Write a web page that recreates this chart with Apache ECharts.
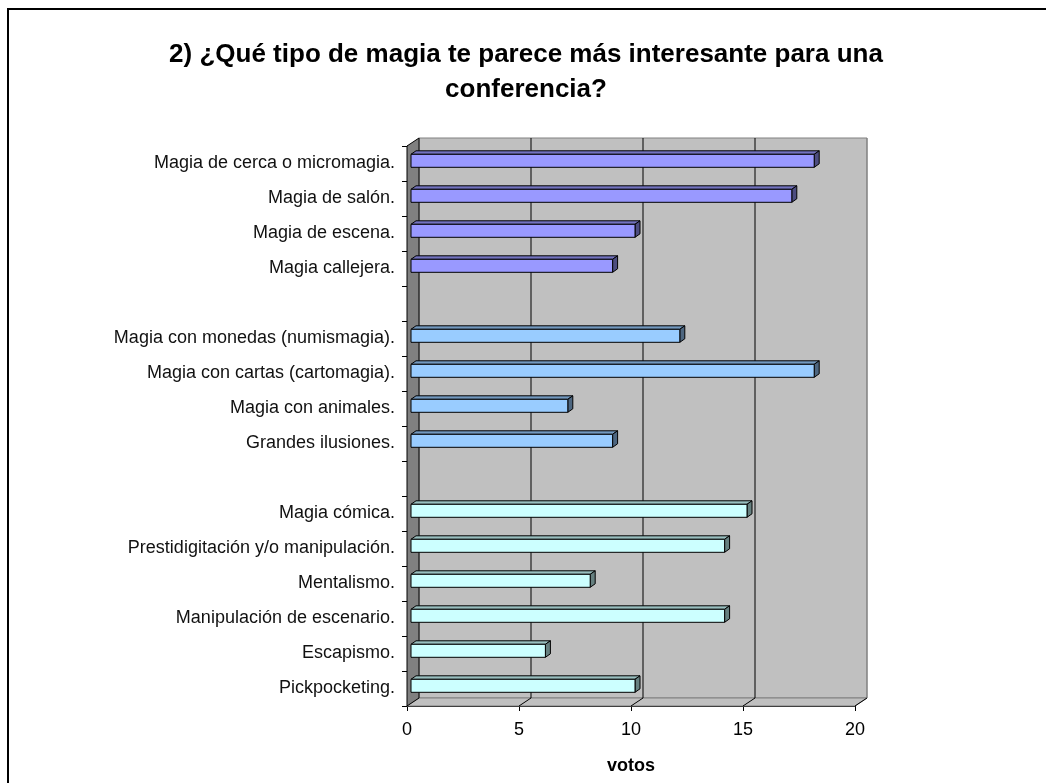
<!DOCTYPE html>
<html>
<head>
<meta charset="utf-8">
<script src="https://cdn.jsdelivr.net/npm/echarts@6/dist/echarts.min.js"></script>
<style>
html,body{margin:0;padding:0;background:#fff;}
#chart{width:1046px;height:783px;}
</style>
</head>
<body>
<div id="chart"></div>
<script>
// Categories top to bottom ('' = gap rows between groups)
var categories = [
  'Magia de cerca o micromagia.',
  'Magia de salón.',
  'Magia de escena.',
  'Magia callejera.',
  '',
  'Magia con monedas (numismagia).',
  'Magia con cartas (cartomagia).',
  'Magia con animales.',
  'Grandes ilusiones.',
  '',
  'Magia cómica.',
  'Prestidigitación y/o manipulación.',
  'Mentalismo.',
  'Manipulación de escenario.',
  'Escapismo.',
  'Pickpocketing.'
];
var votes = [18, 17, 10, 9, null, 12, 18, 7, 9, null, 15, 14, 8, 14, 6, 10];
var groupOf = [0, 0, 0, 0, -1, 1, 1, 1, 1, -1, 2, 2, 2, 2, 2, 2];
var xTicks = [0, 5, 10, 15, 20];
var titleText = '2) ¿Qué tipo de magia te parece más interesante para una\nconferencia?';
var axisName = 'votos';

var frontColors = ['#9999FF', '#99CCFF', '#CCFFFF'];
var topColors = ['#7373BF', '#7399BF', '#99BFBF'];
var sideColors = ['#4D4D80', '#4D6680', '#668080'];

var DX = 12, DY = -8; // wall depth
var BOX = 4, BOY = -2.7; // bar front offset
var BDX = 5, BDY = -3.5; // bar depth
var BAR_H = 13;

var barData = [];
for (var i = 0; i < categories.length; i++) {
  if (votes[i] != null) barData.push([votes[i], i, groupOf[i]]);
}

var chart = echarts.init(document.getElementById('chart'), null, {renderer: 'canvas'});

function poly(points, fill, stroke, lw) {
  return {type: 'polygon', shape: {points: points},
    style: {fill: fill, stroke: stroke || null, lineWidth: lw || 0}};
}

var FONT = 'Liberation Sans, Arial, sans-serif';

var option = {
  backgroundColor: '#fff',
  animation: false,
  title: {
    text: titleText,
    left: 521, top: 32, textAlign: 'center',
    textStyle: {fontFamily: FONT, fontSize: 26, fontWeight: 'bold', color: '#000', lineHeight: 35}
  },
  grid: {left: 407, top: 146, width: 448, height: 560, containLabel: false},
  xAxis: {
    type: 'value', min: 0, max: 20, interval: 5,
    axisLine: {show: true, lineStyle: {color: '#000', width: 1}},
    axisTick: {show: true, length: 5, lineStyle: {color: '#000'}},
    axisLabel: {margin: 15, fontSize: 18, color: '#000', fontFamily: FONT},
    splitLine: {show: false},
    name: axisName, nameLocation: 'middle', nameGap: 51,
    nameTextStyle: {fontSize: 18, fontWeight: 'bold', color: '#000', fontFamily: FONT}
  },
  yAxis: {
    type: 'category', inverse: true, data: categories,
    axisLine: {show: true, lineStyle: {color: '#000', width: 1}},
    axisTick: {show: true, length: 5, alignWithLabel: false, lineStyle: {color: '#000'}},
    axisLabel: {margin: 12, fontSize: 18, color: '#111', fontFamily: FONT, padding: [3, 0, 0, 0]},
    splitLine: {show: false}
  },
  series: [
    {
      type: 'custom', z: 1, silent: true,
      data: [[0, 0]],
      renderItem: function (params, api) {
        var cs = params.coordSys;
        var x0 = cs.x, x1 = cs.x + cs.width, y0 = cs.y, y1 = cs.y + cs.height;
        var children = [];
        children.push(poly([[x0 + DX, y0 + DY], [x1 + DX, y0 + DY], [x1 + DX, y1 + DY], [x0 + DX, y1 + DY]], '#C0C0C0', '#808080', 1));
        children.push(poly([[x0, y1], [x1, y1], [x1 + DX, y1 + DY], [x0 + DX, y1 + DY]], '#C0C0C0', '#808080', 1));
        children.push(poly([[x0, y0], [x0 + DX, y0 + DY], [x0 + DX, y1 + DY], [x0, y1]], '#808080', '#000', 1));
        for (var k = 1; k < xTicks.length; k++) {
          var px = api.coord([xTicks[k], 0])[0];
          children.push({type: 'line', shape: {x1: px + DX, y1: y0 + DY, x2: px + DX, y2: y1 + DY},
            style: {stroke: k === xTicks.length - 1 ? '#808080' : '#000', lineWidth: 1}});
          children.push({type: 'line', shape: {x1: px, y1: y1, x2: px + DX, y2: y1 + DY},
            style: {stroke: '#000', lineWidth: 1}});
        }
        return {type: 'group', children: children};
      }
    },
    {
      type: 'custom', z: 5,
      data: barData,
      encode: {x: 0, y: 1},
      renderItem: function (params, api) {
        var v = api.value(0), c = api.value(1), g = api.value(2);
        var p0 = api.coord([0, c]);
        var p1 = api.coord([v, c]);
        var xl = p0[0] + BOX, xr = p1[0] + BOX;
        var yt = p0[1] + BOY - BAR_H / 2, yb = yt + BAR_H;
        var st = '#000';
        return {type: 'group', children: [
          poly([[xl, yt], [xl + BDX, yt + BDY], [xr + BDX, yt + BDY], [xr, yt]], topColors[g], st, 1),
          poly([[xr, yt], [xr + BDX, yt + BDY], [xr + BDX, yb + BDY], [xr, yb]], sideColors[g], st, 1),
          poly([[xl, yt], [xr, yt], [xr, yb], [xl, yb]], frontColors[g], st, 1)
        ]};
      }
    }
  ],
  graphic: [
    {type: 'polyline', shape: {points: [[8, 800], [8, 9], [1060, 9]]},
      style: {stroke: '#000', lineWidth: 2, fill: null}, z: 100}
  ]
};
chart.setOption(option);
</script>
</body>
</html>
